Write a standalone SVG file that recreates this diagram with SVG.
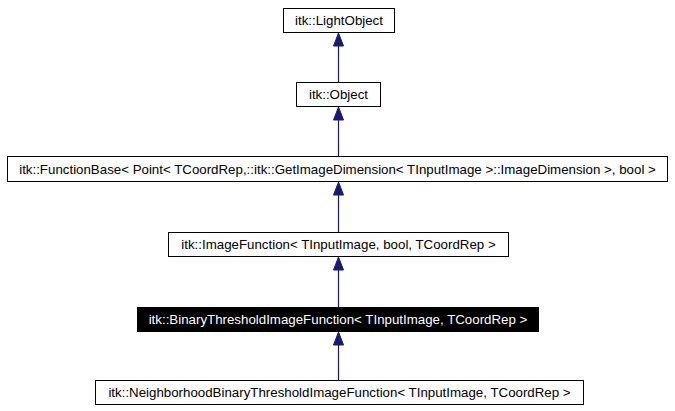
<svg xmlns="http://www.w3.org/2000/svg" width="675" height="411" viewBox="0 0 675 411">
<defs>
<style>
.box{fill:#ffffff;stroke:#000000;stroke-width:1}
.sel{fill:#000000;stroke:#000000;stroke-width:1}
.t{font-family:"Liberation Sans",Arial,sans-serif;font-size:13.3px;text-anchor:middle;fill:#000000}
.tw{fill:#ffffff}
.edge{stroke:#191970;stroke-width:1.2;fill:none}
.head{fill:#191970;stroke:#191970;stroke-width:1}
</style>
</defs>
<rect width="675" height="411" fill="#ffffff"/>
<g id="connectors">
<line class="edge" x1="338.5" y1="82" x2="338.5" y2="44"/>
<polygon class="head" points="338.5,33 333.5,46 343.5,46"/>
<line class="edge" x1="338.5" y1="156" x2="338.5" y2="118"/>
<polygon class="head" points="338.5,107 333.5,120 343.5,120"/>
<line class="edge" x1="338.5" y1="232" x2="338.5" y2="193"/>
<polygon class="head" points="338.5,182 333.5,195 343.5,195"/>
<line class="edge" x1="338.5" y1="307" x2="338.5" y2="268"/>
<polygon class="head" points="338.5,257 333.5,270 343.5,270"/>
<line class="edge" x1="338.5" y1="380" x2="338.5" y2="343"/>
<polygon class="head" points="338.5,332 333.5,345 343.5,345"/>
</g>
<g id="node-lightobject">
<rect class="box" x="283.5" y="8.5" width="111" height="24"/>
<text class="t" x="339" y="25">itk::LightObject</text>
</g>
<g id="node-object">
<rect class="box" x="296.5" y="82.5" width="84" height="24"/>
<text class="t" x="338.5" y="99">itk::Object</text>
</g>
<g id="node-functionbase">
<rect class="box" x="7.5" y="156.5" width="660" height="25"/>
<text class="t" x="337.5" y="173.5">itk::FunctionBase&lt; Point&lt; TCoordRep,::itk::GetImageDimension&lt; TInputImage &gt;::ImageDimension &gt;, bool &gt;</text>
</g>
<g id="node-imagefunction">
<rect class="box" x="168.5" y="232.5" width="340" height="24"/>
<text class="t" x="338.5" y="249">itk::ImageFunction&lt; TInputImage, bool, TCoordRep &gt;</text>
</g>
<g id="node-binarythreshold">
<rect class="sel" x="137.5" y="307.5" width="401" height="24"/>
<text class="t tw" x="338" y="324">itk::BinaryThresholdImageFunction&lt; TInputImage, TCoordRep &gt;</text>
</g>
<g id="node-neighborhood">
<rect class="box" x="95.5" y="380.5" width="488" height="24"/>
<text class="t" x="339.5" y="397">itk::NeighborhoodBinaryThresholdImageFunction&lt; TInputImage, TCoordRep &gt;</text>
</g>
</svg>
